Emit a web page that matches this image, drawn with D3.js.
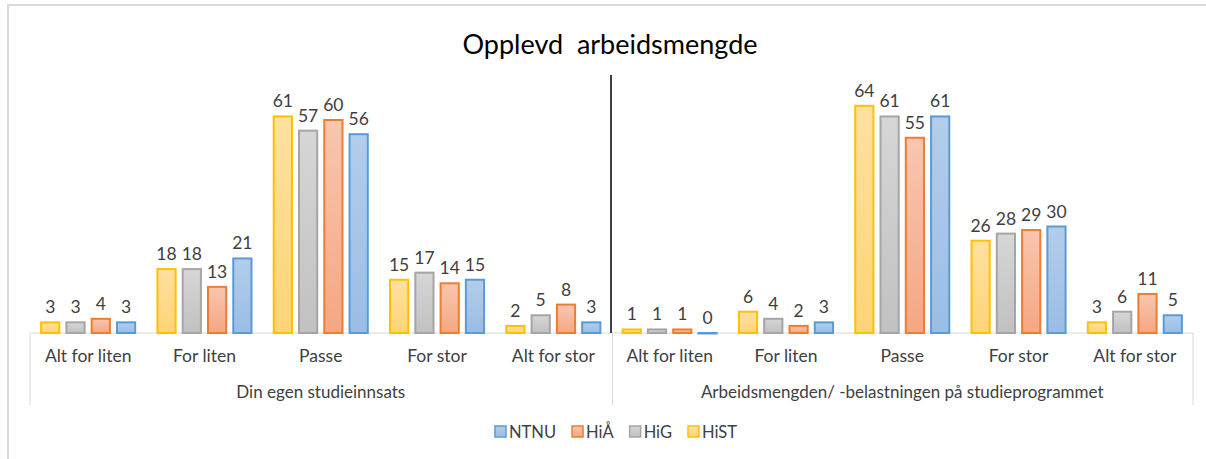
<!DOCTYPE html>
<html lang="no">
<head>
    <meta charset="UTF-8">
    <title>Opplevd arbeidsmengde</title>
    <script src="https://d3js.org/d3.v7.min.js"></script>
    <style>
        body { margin: 0; background: #fff; }
        text { font-family: Lato, "Open Sans", sans-serif; fill: #404040; }
    </style>
</head>
<body>
<script>
    const width = 1206;
    const height = 459;

    // data
    const groups = ["Din egen studieinnsats", "Arbeidsmengden/ -belastningen på studieprogrammet"];
    const categories = ["Alt for liten", "For liten", "Passe", "For stor", "Alt for stor"];
    const series = ["HiST", "HiG", "HiÅ", "NTNU"];
    const legendOrder = ["NTNU", "HiÅ", "HiG", "HiST"];
    const valuesHiST = [3, 18, 61, 15, 2, 1, 6, 64, 26, 3];
    const valuesHiG  = [3, 18, 57, 17, 5, 1, 4, 61, 28, 6];
    const valuesHiA  = [4, 13, 60, 14, 8, 1, 2, 55, 29, 11];
    const valuesNTNU = [3, 21, 56, 15, 3, 0, 3, 61, 30, 5];

    const seriesValues = {HiST: valuesHiST, HiG: valuesHiG, "HiÅ": valuesHiA, NTNU: valuesNTNU};
    const colors = {
        HiST: {stroke: "#FFC000", top: "#FFE0A0", bottom: "#FFD477"},
        HiG:  {stroke: "#A5A5A5", top: "#D6D6D6", bottom: "#C1C1C1"},
        "HiÅ": {stroke: "#ED7D31", top: "#F8C6B0", bottom: "#F4A783"},
        NTNU: {stroke: "#5B9BD5", top: "#B3CDEB", bottom: "#9ABDE5"}
    };

    // flat list of slots: group x category
    const slots = [];
    groups.forEach((g, gi) => categories.forEach(c => slots.push(gi + "|" + c)));

    const left = 30, right = 1193, base = 333;

    const svg = d3.select("body").append("svg")
        .attr("width", width).attr("height", height);

    const defs = svg.append("defs");
    series.forEach((s, i) => {
        const grad = defs.append("linearGradient")
            .attr("id", "grad" + i).attr("x1", 0).attr("y1", 0).attr("x2", 0).attr("y2", 1);
        grad.append("stop").attr("offset", "0%").attr("stop-color", colors[s].top);
        grad.append("stop").attr("offset", "100%").attr("stop-color", colors[s].bottom);
    });

    // chart border (right and bottom edges fall outside the window)
    svg.append("rect")
        .attr("x", 8).attr("y", 5).attr("width", 1220).attr("height", 470)
        .attr("fill", "none").attr("stroke", "#D9D9D9").attr("stroke-width", 2);

    svg.append("text")
        .attr("x", 610).attr("y", 54)
        .attr("text-anchor", "middle")
        .style("font-size", "27px").style("fill", "#000")
        .style("white-space", "pre")
        .text("Opplevd  arbeidsmengde");

    const x0 = d3.scaleBand().domain(slots).range([left, right]);
    const x1 = d3.scaleBand().domain(series).range([0, x0.bandwidth()])
        .paddingInner(0.2).paddingOuter(0.4);
    const y = d3.scaleLinear().domain([0, 70]).range([base, 84.5]);

    // axis lines
    const axis = svg.append("g");
    axis.append("line")
        .attr("x1", left).attr("x2", right).attr("y1", base).attr("y2", base)
        .attr("stroke", "#D9D9D9");
    [left, (left + right) / 2 + 1, right].forEach(xx => {
        axis.append("line")
            .attr("x1", xx).attr("x2", xx).attr("y1", base).attr("y2", 405)
            .attr("stroke", "#D9D9D9");
    });
    // divider between the two groups
    axis.append("line")
        .attr("x1", (left + right) / 2 - 0.5).attr("x2", (left + right) / 2 - 0.5)
        .attr("y1", 75).attr("y2", base)
        .attr("stroke", "#000").attr("stroke-width", 1.5);

    // bars
    const cat = svg.selectAll("g.cat")
        .data(slots)
        .enter().append("g")
        .attr("class", "cat")
        .attr("transform", d => `translate(${x0(d)},0)`);

    cat.selectAll("rect")
        .data((d, i) => series.map((s, si) => ({s, si, v: seriesValues[s][i]})))
        .enter().append("rect")
        .attr("x", d => x1(d.s) + 1)
        .attr("width", x1.bandwidth() - 2)
        .attr("y", d => y(d.v))
        .attr("height", d => Math.max(0.5, base - y(d.v)))
        .attr("fill", d => `url(#grad${d.si})`)
        .attr("stroke", d => colors[d.s].stroke)
        .attr("stroke-width", 2);

    cat.selectAll("text.val")
        .data((d, i) => series.map(s => ({s, v: seriesValues[s][i]})))
        .enter().append("text")
        .attr("class", "val")
        .attr("x", d => x1(d.s) + x1.bandwidth() / 2)
        .attr("y", d => y(d.v) - 9)
        .attr("text-anchor", "middle")
        .style("font-size", "17.5px")
        .text(d => d.v);

    // category labels
    cat.append("text")
        .attr("x", x0.bandwidth() / 2)
        .attr("y", 362)
        .attr("text-anchor", "middle")
        .style("font-size", "17.5px")
        .text(d => d.split("|")[1]);

    // group labels
    const gx = d3.scaleBand().domain(groups).range([left, right]);
    svg.selectAll("text.group")
        .data(groups)
        .enter().append("text")
        .attr("class", "group")
        .attr("x", d => gx(d) + gx.bandwidth() / 2)
        .attr("y", 398)
        .attr("text-anchor", "middle")
        .style("font-size", "17px")
        .text(d => d);

    // legend
    const legend = svg.append("g");
    const gap = 16;
    let lx = 0;
    legendOrder.forEach(s => {
        const si = series.indexOf(s);
        const item = legend.append("g").attr("transform", `translate(${lx},0)`);
        item.append("rect")
            .attr("x", 0).attr("y", -6).attr("width", 11).attr("height", 11)
            .attr("fill", `url(#grad${si})`)
            .attr("stroke", colors[s].stroke).attr("stroke-width", 1.5);
        const t = item.append("text")
            .attr("x", 14).attr("y", 6)
            .style("font-size", "16.5px")
            .text(s);
        lx += 14 + t.node().getComputedTextLength() + gap;
    });
    const lw = lx - gap;
    legend.attr("transform", `translate(${616 - lw / 2},432)`);
</script>
</body>
</html>
